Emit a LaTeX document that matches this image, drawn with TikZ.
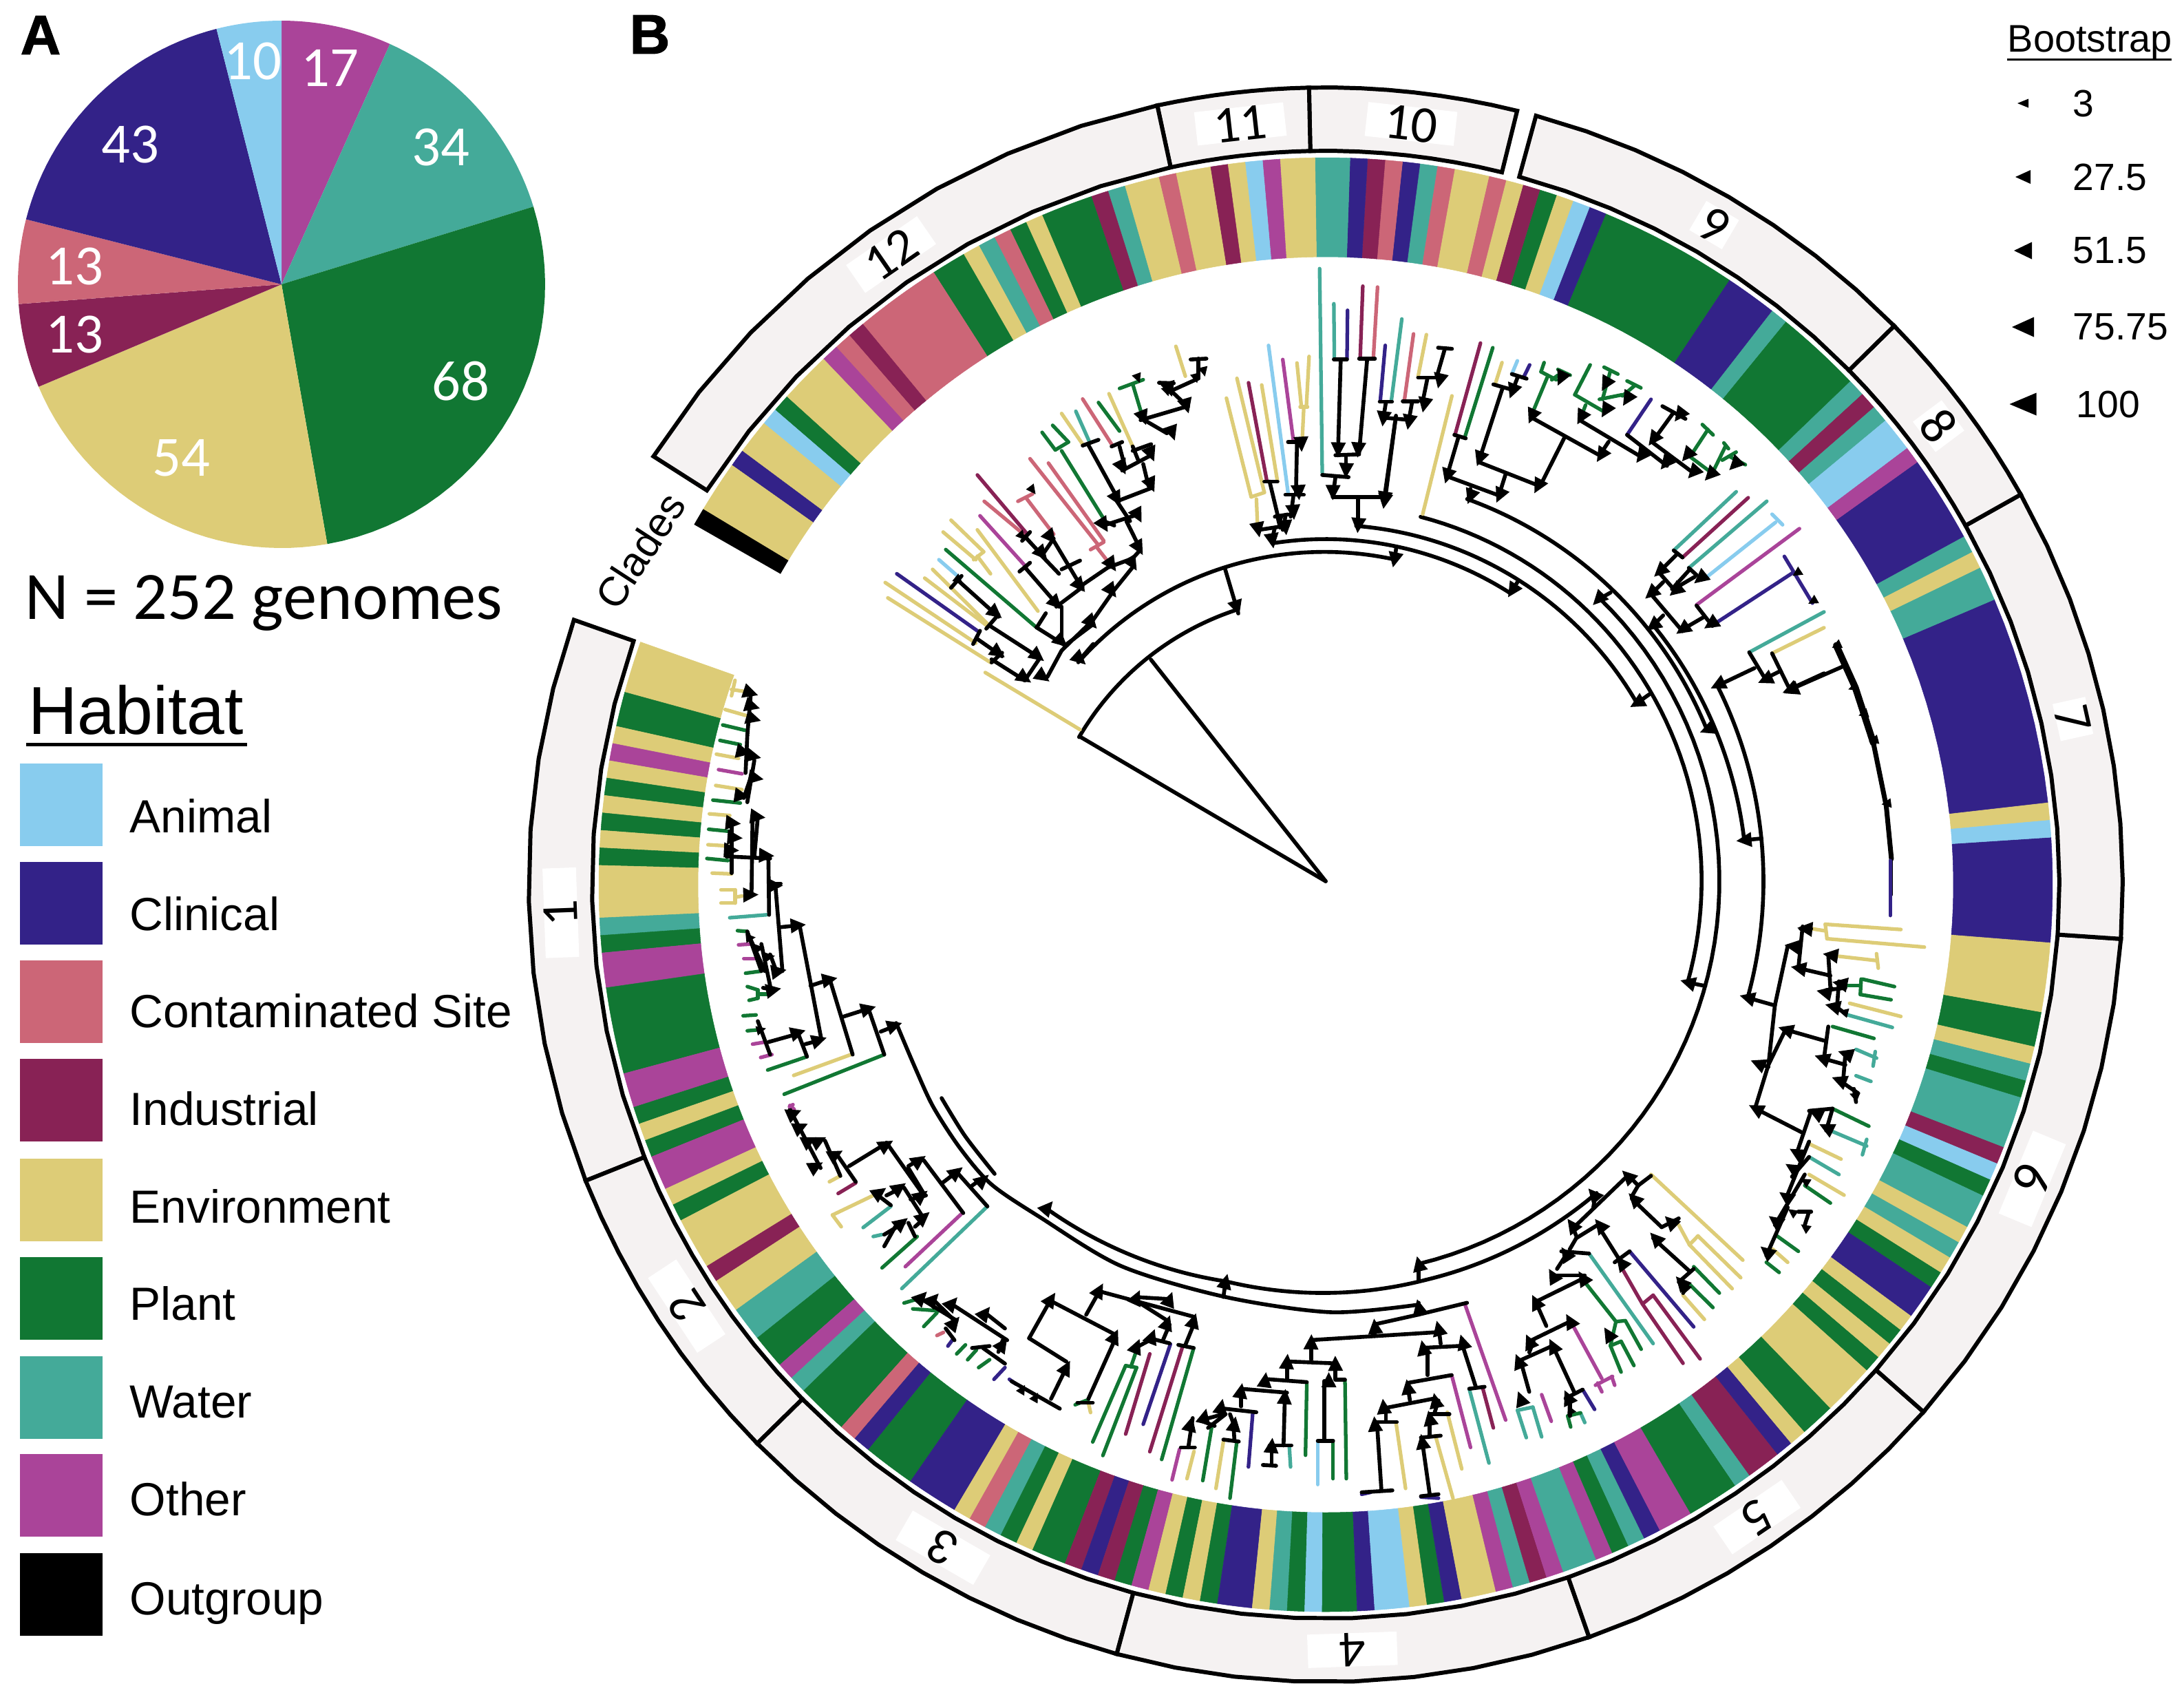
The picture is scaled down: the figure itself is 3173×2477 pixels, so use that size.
\documentclass[tikz,border=0pt]{standalone}
\usepackage{fontspec}
\setmainfont{Liberation Sans}
\newfontfamily\calib{Carlito}
\newfontfamily\heavyf[BoldFeatures={FakeBold=1.5}]{Liberation Sans}
\usetikzlibrary{positioning}
\definecolor{cA}{HTML}{88CCEE}
\definecolor{cL}{HTML}{332288}
\definecolor{cC}{HTML}{CC6677}
\definecolor{cI}{HTML}{882255}
\definecolor{cE}{HTML}{DDCC77}
\definecolor{cP}{HTML}{117733}
\definecolor{cW}{HTML}{44AA99}
\definecolor{cO}{HTML}{AA4499}
\definecolor{cX}{HTML}{000000}
\definecolor{ringfill}{HTML}{F5F2F2}
\tikzset{
  treeb/.style={black,line width=1.6pt,line cap=round,line join=round},
  tipb/.style={line width=1.5pt,line cap=round},
  ringb/.style={draw=black,fill=ringfill,line width=1.7pt,line join=miter},
  inview/.style={shift={(\zx,\zy)},xscale=1/\zsx,yscale=1/\zsy},
  cladelab/.style={fill=white,inner sep=0pt,minimum height=0.4cm,font=\fontsize{21.5}{24}\selectfont\calib},
  pielab/.style={white,inner sep=0pt,font=\fontsize{23.5}{26}\selectfont\calib},
  panlab/.style={anchor=center,inner sep=0pt,font=\fontsize{23}{26}\selectfont\heavyf\bfseries},
  leglab/.style={anchor=base west,inner sep=0pt,font=\fontsize{19.2}{22}\selectfont},
  bootlab/.style={anchor=west,inner sep=0pt,font=\fontsize{15.7}{18}\selectfont},
}
% sector of a ring around the tree centre
\newcommand{\sector}[5]{\filldraw[#5] plot[domain=#1:#2,samples=9] ({1926+#4*cos(\x)},{1285-#4*sin(\x)}) -- plot[domain=#2:#1,samples=9] ({1926+#3*cos(\x)},{1285-#3*sin(\x)}) -- cycle;}
% bar of the tree, radius and angle at both ends
\newcommand{\treearc}[4]{\draw[treeb] plot[domain=0:1,samples=50] ({1926+(#1+(#3-#1)*\x)*cos(#2+(#4-#2)*\x)},{1280-(#1+(#3-#1)*\x)*sin(#2+(#4-#2)*\x)});}
\newcommand{\zoomview}[4]{\def\zx{#1}\def\zy{#2}\def\zsx{#3}\def\zsy{#4}}
\newcommand{\tiplist}[1]{\begin{scope}[inview]\foreach \co/\xa/\ya/\xb/\yb in {#1}{\draw[tipb,color=c\co] (\xa,\ya) -- (\xb,\yb);}\end{scope}}
\newcommand{\barlist}[1]{\begin{scope}[inview]\foreach \xa/\ya/\xb/\yb in {#1}{\draw[treeb] (\xa,\ya) -- (\xb,\yb);}\end{scope}}
% triangles point to the root
\newcommand{\trilist}[2]{\foreach \tx/\ty in {#2}{
  \pgfmathsetmacro\px{\zx+\tx/\zsx}\pgfmathsetmacro\py{\zy+\ty/\zsy}
  \pgfmathsetmacro\ang{atan2(1280-\py,1926-\px)}
  \pgfmathsetmacro\ux{#1*cos(\ang)}\pgfmathsetmacro\uy{#1*sin(\ang)}
  \fill[black] ({\px+\ux},{\py+\uy}) -- ({\px-\ux-\uy},{\py-\uy+\ux}) -- ({\px-\ux+\uy},{\py-\uy-\ux}) -- cycle;}}
\newcommand{\legtri}[4]{\fill[black] ({#1-#3/2},#2) -- ({#1+#3/2},{#2-#4/2}) -- ({#1+#3/2},{#2+#4/2}) -- cycle;}
\begin{document}
\begin{tikzpicture}[x=0.01cm,y=-0.01cm]
\useasboundingbox (0,0) rectangle (3173,2477);
% pie
\def\cnt{0}
\foreach \co/\n in {O/17,W/34,P/68,E/54,I/13,C/13,L/43,A/10}{
  \pgfmathsetmacro\stA{90-\cnt*1.428571}\pgfmathsetmacro\stB{90-(\cnt+\n)*1.428571}
  \fill[color=c\co] (409,413) -- plot[domain=\stA:\stB,samples=30] ({409+383*cos(\x)},{413-383*sin(\x)}) -- cycle;
  \pgfmathtruncatemacro\nn{\cnt+\n}\xdef\cnt{\nn}}
\node[pielab] (pie10) at (367,89) {10};
\node[pielab] (pie17) at (479,99) {17};
\node[pielab] (pie34) at (640,214) {34};
\node[pielab] (pie43) at (189,210) {43};
\node[pielab] (pie13a) at (108,387) {13};
\node[pielab] (pie13b) at (108,486) {13};
\node[pielab] (pie54) at (263,665) {54};
\node[pielab] (pie68) at (669,554) {68};
\node[panlab] (panA) at (59,51) {A};
\node[panlab] (panB) at (944,50) {B};
\node[anchor=base west,inner sep=0pt,font=\fontsize{28}{32}\selectfont\calib] (total) at (36,899) {N = 252 genomes};
% legend
\node[anchor=base west,inner sep=0pt,font=\fontsize{28}{32}\selectfont] (habitat) at (41,1066) {Habitat};
\fill[black] (38,1079) rectangle (359,1084);
\foreach \co/\ys/\yt/\lab in {A/1109/1209/Animal,L/1252/1351/Clinical,C/1395/1492/Contaminated Site,I/1538/1634/Industrial,E/1683/1776/Environment,P/1826/1917/Plant,W/1970/2059/Water,O/2112/2201/Other,X/2256/2345/Outgroup}{
  \fill[color=c\co] (29,\ys) rectangle +(120,120);
  \node[leglab] (leg\co) at (188,\yt) {\lab};}
\node[anchor=base west,inner sep=0pt,font=\fontsize{15.9}{18}\selectfont] (bootstrap) at (2916,75) {Bootstrap};
\fill[black] (2916,85) rectangle (3155,88);
\legtri{2939}{150}{16}{13}
\legtri{2939}{257}{22}{20}
\legtri{2939}{364}{26}{25}
\legtri{2939}{475}{32}{29}
\legtri{2939}{587}{39}{33}
\node[bootlab] (bs3) at (3011,150) {3};
\node[bootlab] (bs27) at (3011,257) {27.5};
\node[bootlab] (bs51) at (3011,364) {51.5};
\node[bootlab] (bs75) at (3011,475) {75.75};
\node[bootlab] (bs100) at (3016,587) {100};
% clade ring
\foreach \angA/\angB in {160.6/201.8,201.8/224.5,224.5/254.8,254.8/289.3,289.3/318.6,318.6/356.1,356.1/389.3,389.3/404.5,404.5/434.7,436.1/451.2,451.2/462.2,462.2/507.5}{
  \sector{\angA}{\angB}{1066}{1158}{ringb}}
\foreach \lab/\ang/\labw in {1/182.1/1.3,2/213.4/1.3,3/240/1.3,4/272/1.3,5/304.3/1.2,6/337.4/1.3,7/372.5/0.55,8/396.8/0.55,9/419.5/0.55,10/443.6/1.3,11/456.4/1.3,12/484.6/1.25}{
  \node[cladelab,minimum width=\labw cm,rotate=\ang-90] (clade\lab) at ({1926+1112*cos(\ang)},{1285-1112*sin(\ang)}) {\lab};}
\node[inner sep=0pt,rotate=57,font=\fontsize{17}{20}\selectfont] (clades) at (930,800) {Clades};
% habitat band
\def\uu{1.3826}
\def\cnt{0}
\foreach \co/\n in {E/3,P/2,E/1,O/1,E/1,P/1,E/1,P/1,E/1,P/1,E/3,W/1,P/1,O/2,P/5,O/2,P/1,E/1,P/1,O/2,E/1,P/1,
  E/3,I/1,E/2,W/2,P/2,O/1,W/1,P/3,C/1,L/1,P/3,L/3,E/1,C/1,W/1,P/1,E/1,P/2,I/1,L/1,I/1,P/1,O/1,E/1,P/1,E/1,P/1,
  L/2,E/1,W/1,P/1,A/1,P/2,L/1,A/2,E/1,P/1,L/1,E/2,O/1,W/1,I/1,O/1,W/2,O/1,P/1,W/1,L/1,O/2,
  P/3,W/1,I/2,L/1,E/1,P/2,E/3,P/1,E/1,P/1,E/1,L/2,P/1,E/1,W/1,E/1,W/2,P/1,A/1,I/1,W/3,P/1,W/1,E/1,P/2,E/4,
  L/6,A/1,E/1,L/12,W/2,E/1,W/1,L/5,O/1,A/2,W/1,I/1,W/1,P/5,W/1,L/3,P/8,L/1,A/1,E/1,P/1,I/1,E/1,C/1,E/2,C/1,W/1,L/1,C/1,
  I/1,L/1,W/2,E/2,O/1,A/1,E/1,I/1,E/2,C/1,E/2,W/1,I/1,P/3,E/1,P/1,C/1,W/1,E/1,P/2,C/5,I/1,C/1,O/1,E/3,P/1,A/1,E/2,L/1,E/3,X/1}{
  \pgfmathsetmacro\stA{160.5+\cnt*\uu}\pgfmathsetmacro\stB{160.5+(\cnt+\n)*\uu}
  \sector{\stA}{\stB}{912}{1056}{color=c\co,line width=0.15pt}
  \pgfmathtruncatemacro\nn{\cnt+\n}\xdef\cnt{\nn}}
% backbone
\zoomview{0}{0}{1}{1}
\barlist{1926/1280/1569/1070,1926/1280/1672/958,1780/827/1799/891}
\treearc{415}{149.7}{415}{108.6}
\treearc{480}{138.5}{478}{77.9}
\treearc{497}{99}{497}{57.3}
\treearc{518}{85.1}{521}{29.8}
\treearc{547}{75.4}{546}{-15.6}
\treearc{572}{46}{572}{-76.4}
\treearc{592}{69.7}{596}{21.7}
\treearc{604}{38}{611}{5.6}
\treearc{636}{26.5}{636}{-15.5}
\treearc{600}{-49}{597}{-76}
\treearc{597}{-76}{599}{-104}
\treearc{599}{-104}{625}{-130.5}
\draw[treeb] plot[smooth] coordinates {(1302,1486) (1330,1552) (1356,1608) (1395,1668) (1440,1720) (1511,1768) (1629,1839) (1781,1884) (1934,1906) (2061,1895)};
\draw[treeb] plot[smooth] coordinates {(1368,1595) (1402,1650) (1445,1705)};
\trilist{11}{1797/883}
% clades 12 and 11
\zoomview{850}{100}{1.307}{1.568}
\tiplist{E/940/1505/760/1375,E/770/1352/575/1205,E/742/1308/570/1170,L/745/1280/592/1150,E/765/1270/645/1160,A/712/1160/672/1118,E/765/1265/660/1140,P/855/1270/685/1095,E/742/1118/680/1055,E/757/1100/695/1028,E/738/1118/757/1100,E/745/1110/770/1150,E/860/1235/745/1050,O/838/1135/750/1018,C/838/1065/758/985,I/840/1060/745/925,C/822/985/850/968,C/838/978/890/1060,C/975/1085/845/888,C/985/1075/880/898,C/960/1095/985/1078,C/972/1090/998/1130,P/985/1025/905/870,P/893/868/918/850,P/893/868/868/828,P/918/850/888/812,E/945/855/905/785,W/958/850/932/780,C/1000/855/945/752,P/1015/825/975/760,E/1040/860/995/740,P/1015/728/1060/708,P/1040/718/1058/790,E/1140/700/1122/632,
  E/1265/975/1218/750,E/1290/965/1238/705,E/1265/975/1290/965,E/1275/980/1277/1040,I/1295/940/1260/715,E/1315/940/1285/720,A/1335/965/1298/630,O/1345/845/1325/662,E/1360/765/1352/670,E/1370/765/1375/655,E/1358/770/1372/770,E/1365/770/1362/845,
  W/1400/920/1395/455,W/1423/660/1422/535,L/1447/660/1448/550,I/1472/660/1477/495,C/1497/660/1505/497}
\barlist{772/1345/835/1393,737/1310/750/1280,743/1297/792/1338,772/1352/792/1330,768/1268/865/1343,762/1275/785/1243,708/1165/785/1248,695/1182/715/1155,835/1393/862/1345,857/1272/910/1312,858/1272/875/1240,835/1135/900/1225,825/1145/845/1125,
  878/1385/905/1325,905/1325/965/1255,965/1255/1003/1190,1003/1190/1040/1135,915/1310/965/1265,940/1345/965/1310,895/1225/945/1180,905/1225/905/1300,
  835/1065/868/1108,830/1075/845/1055,868/1108/890/1070,885/1065/945/1185,860/1100/900/1150,905/1140/940/1120,
  945/1175/1000/1130,995/1135/1040/1115,1040/1115/1055/1095,1028/1030/1055/1095,985/1040/1050/1015,985/1030/1005/1040,1010/985/1035/1030,1010/985/1075/955,955/855/1010/975,945/858/975/845,1015/860/1025/905,1000/860/1020/850,1020/915/1075/880,1040/870/1075/855,1060/900/1070/950,1055/795/1105/830,1055/800/1140/770,1110/730/1145/770,1110/735/1165/705,1165/660/1165/705,1150/662/1180/660,1040/860/1050/890,1090/715/1118/716,
  1290/940/1315/940,1300/940/1315/1015,1310/1020/1335/1015,1335/850/1362/850,1352/855/1350/970,1330/970/1365/970,1345/975/1340/1020,1330/1020/1325/1050,1280/1050/1335/1040,1315/1020/1320/1045,1310/1045/1305/1070,
  1422/662/1447/662,1470/660/1500/660,1435/665/1430/870,1485/665/1470/875,1425/880/1470/878,1445/880/1445/925,1400/925/1450/930,1425/930/1420/975,1420/975/1520/975,1468/975/1468/1045,1540/790/1520/975}
\trilist{11}{835/1388,870/1385,785/1330,860/1338,780/1240,905/1305,895/1218,940/1345,962/1262,1000/1190,1040/1128,1052/1092,1000/1130,940/1178,868/1105,885/1068,985/1040,1050/1018,1010/980,1075/948,1020/908,1075/878,1115/830,1060/795,1142/768,1110/730,1278/1050,1330/1045,1305/1075,1345/1010,1355/965,1360/855,1430/868,1468/868,1445/915,1420/965,1518/985,1468/1040}
\trilist{7}{710/1165,830/1065,850/960,1050/705,1160/705,1175/690,1105/735,1320/1025}
% clades 10 and 9
\zoomview{2000}{400}{2.24}{3}
\tiplist{L/12/545/28/305,W/48/545/82/190,C/90/548/120/255,E/135/440/162/258,I/255/695/338/295,P/287/705/378/315,E/150/1040/245/525,E/388/465/408/380,A/440/430/458/372,L/478/445/498/390,P/510/590/555/445,P/545/380/535/420,P/535/420/585/455,P/590/410/630/435,P/590/435/570/455,P/695/390/645/520,P/645/520/735/590,P/680/565/670/600,P/740/400/785/430,P/760/420/735/540,P/725/540/800/520,P/815/460/860/490,P/840/480/800/525,L/815/695/893/540,P/1060/650/1095/695,P/1078/672/1020/790,P/1020/790/1090/860,P/1130/730/1145/755,P/1135/745/1095/855,P/1150/790/1200/825,P/1125/805/1170/770}
\barlist{10/550/50/550,85/548/135/548,135/445/190/445,200/315/245/320,222/320/195/445,165/450/150/550,30/555/22/620,115/555/105/630,22/620/110/630,60/640/25/970,253/695/290/710,265/710/230/870,228/875/400/960,305/930/300/970,440/430/488/450,460/440/440/510,380/475/445/500,410/490/335/800,335/815/525/915,420/865/400/950,610/710/535/910,505/620/720/780,755/725/730/775,660/630/860/790,815/695/945/830,930/570/1005/625,965/600/900/720,900/730/1030/860}
\trilist{11}{155/565,22/625,105/640,25/975,335/800,230/875,400/960,305/965,525/920,505/615,730/785,600/450,745/475,745/590,815/540,665/620,860/790,940/820,985/610,900/715,1030/860,1010/785,1085/870,1165/825,205/460,442/505}
% clade 8
\zoomview{1850}{700}{1.96}{1.96}
\tiplist{W/1140/195/1318/28,I/1165/215/1352/45,W/1183/245/1405/55,A/1235/270/1430/115,A/1420/92/1450/122,O/1205/350/1498/133,L/1255/405/1480/258,L/1455/212/1535/345,W/1355/485/1568/370,E/1420/488/1568/415}
\barlist{350/185/345/225,695/285/680/310,1070/605/1035/630,1230/1435/1180/1425,960/315/925/335,1250/685/1235/705,1390/1015/1340/1020,1110/380/1080/410,1140/195/1165/215,1183/245/1205/265,1150/205/1100/255,1185/250/1135/305,1100/260/1140/305,1140/305/1200/270,1075/320/1110/285,1080/325/1165/425,1205/352/1250/410,1225/385/1165/420,1355/485/1400/560,1420/488/1470/590,1265/580/1370/530,1400/560/1440/540,1470/590/1568/545}
\trilist{11}{345/222,680/310,1035/630,1180/1425,925/335,1235/705,1340/1020,1080/410,1100/255,1215/275,1145/310,1075/318,1165/420,1245/405,1265/578,1400/563,1470/592}
\trilist{7}{1490/260,1535/340}
% clade 7
\zoomview{2000}{100}{1.337}{1.307}
\barlist{800/1180/905/1135}
\begin{scope}[inview]
\draw[treeb,line width=2.8pt] (893,1095) -- (930,1175) -- (965,1280);
\draw[treeb,line width=2pt] (965,1280) -- (990,1400) -- (1000,1500);
\draw[treeb,line width=1.4pt] (1000,1500) -- (1000,1568);
\end{scope}
\trilist{7}{893/1095,925/1175,945/1225,965/1275,990/1395}
\trilist{11}{805/1180}
% clades 6 and 5
\zoomview{2200}{1250}{1.611}{1.568}
\tiplist{L/880/0/880/125,E/695/155/728/160,E/728/145/732/178,E/728/145/905/157,E/732/178/960/197,E/760/218/850/228,E/848/212/852/245,P/780/285/810/285,P/812/270/810/305,P/815/270/890/287,P/810/305/882/317,E/785/325/905/355,W/775/350/885/380,P/745/378/842/405,W/800/430/848/450,W/845/435/840/468,W/800/490/835/503,P/745/565/830/605,W/740/615/825/650,W/825/635/815/670,E/690/645/765/680,W/690/675/760/715,E/690/715/772/762,P/680/740/740/780,P/615/855/665/890,E/605/885/640/915,P/590/915/620/938,
  E/320/715/535/910,E/410/875/430/855,E/430/855/530/950,E/410/875/510/975,E/385/830/410/875,P/420/925/480/985,P/410/965/465/1018,E/395/990/445/1045,L/270/890/420/1062,I/250/925/300/1010,I/300/1010/325/990,I/300/1010/395/1145,I/325/990/435/1135,W/175/895/325/1100,P/165/960/238/1050,P/238/1050/260/1048,P/260/1048/297/1113,P/238/1050/225/1105,P/225/1105/250/1095,P/225/1105/250/1165,P/250/1095/280/1150,O/135/1055/205/1180,O/190/1195/230/1175,O/195/1190/205/1210,O/228/1175/235/1195,L/160/1205/188/1250,P/125/1265/132/1290,W/155/1258/165/1280,P/125/1265/155/1258}
\barlist{675/150/665/245,695/155/670/155,640/195/610/330,610/330/595/465,595/465/565/560,665/190/640/195,545/312/610/330,665/245/740/262,735/215/740/290,760/275/755/340,730/295/775/290,770/345/750/330,635/385/725/410,635/385/595/465,570/462/595/470,735/378/725/450,720/450/775/465,775/440/770/500,760/500/805/530,795/520/800/550,565/565/675/620,695/570/660/670,745/565/730/615,690/570/745/565,690/640/640/760,690/675/650/720,680/715/610/830,665/800/695/800,690/800/680/830,640/790/590/900,
  320/718/290/740,265/715/290/740,290/740/275/765,275/770/345/835,345/835/385/815,325/860/410/935,385/960/420/930,405/965/395/985,270/890/235/915,250/915/195/830,195/830/145/860,265/718/140/835,145/855/135/830,145/860/130/885,110/890/175/895,120/900/100/930,90/945/165/945,50/1005/165/950,50/1005/75/1060,35/1095/130/1050,45/1095/35/1120,10/1140/90/1105,90/1105/140/1210,15/1140/35/1210,120/1225/160/1205,130/1225/130/1265,185/790/190/760}
\trilist{11}{680/155,650/195,665/245,740/215,725/300,762/280,745/332,545/312,635/385,720/450,570/462,775/440,760/500,565/565,705/575,730/608,660/665,650/700,635/765,610/820,590/890,265/718,185/760,280/770,365/822,330/860,135/830,200/830,250/915,120/895,90/945,160/950,50/1005,130/1048,390/960,220/1078,35/1095,90/1105,10/1140,125/1222,15/1225}
\trilist{7}{770/345,795/535,680/730,650/800,680/835,130/1250,400/970}
% clade 4
\zoomview{1500}{1600}{1.568}{1.762}
\tiplist{W/1105/790/1140/782,W/1105/790/1125/860,W/1140/782/1160/858,O/1160/750/1182/818,O/985/518/1078/815,I/1025/730/1050/835,W/995/735/1040/925,O/955/700/998/885,E/828/820/850/990,E/918/855/958/1015,E/945/795/978/940,A/650/870/650/980,P/685/870/685/965,P/712/715/715/965,P/625/720/622/905,W/585/880/588/935,L/502/795/492/935,P/465/875/450/1015,E/435/870/418/990,P/408/835/388/970,E/368/895/352/965,O/335/890/318/968,L/750/1005/770/1000,L/885/1012/925/1015}
\barlist{338/885/370/885,355/885/365/810,380/815/415/830,385/815/435/800,400/835/440/800,460/865/458/830,435/865/470/870,430/785/510/795,475/740/475/780,475/735/580/745,575/755/572/880,525/930/555/932,545/930/545/885,540/880/590/880,530/710/625/718,580/665/690/670,580/665/580/710,635/615/635/660,665/865/665/715,690/680/690/710,650/868/685/868,690/712/712/712,640/610/925/590,925/575/930/620,780/575/780/600,780/570/880/545,880/515/880/545,880/545/990/515,895/630/980/625,900/630/900/700,980/625/1010/730,995/735/1030/730,855/720/955/700,855/730/860/765,800/785/915/760,805/790/805/815,785/820/830/820,785/825/795/995,750/1000/820/995,925/765/915/800,905/800/950/800,905/810/905/855,885/860/930/855,888/870/905/1005,885/1010/925/1005,880/460/880/420,435/500/440/460,450/800/460/830}
\trilist{11}{880/415,440/460,35/270,880/525,360/825,392/805,430/780,460/825,475/740,530/712,580/665,690/670,675/712,545/880,575/755,635/615,780/575,925/580,890/630,980/615,855/730,800/780,918/765,780/825,905/810,888/870}
% clades 3 and 2
\zoomview{800}{1600}{1.568}{1.76}
\tiplist{O/545/10/555/20,E/635/205/660/190,I/655/235/695/208,E/642/290/735/240,E/642/290/662/320,W/712/322/775/268,W/735/345/755/340,P/755/425/835/345,O/808/422/935/288,W/800/478/995/268,P/805/515/835/505,P/825/530/885/535,P/850/575/880/540,C/880/598/895/590,L/905/625/915/610,P/925/645/945/622,P/950/660/970/635,P/975/680/1000/660,L/1010/710/1035/680,L/1045/710/1060/722,P/1195/775/1225/762,E/1225/770/1230/795,P/1235/870/1310/675,P/1258/905/1335/680,P/1310/675/1335/680,P/1322/678/1335/635,I/1310/850/1365/645,L/1350/825/1412/620,I/1365/895/1440/625,P/1392/915/1465/630}
\barlist{545/20/615/170,625/100/660/190,655/140/695/205,680/165/760/110,765/105/850/240,815/165/845/145,815/170/850/235,850/150/940/285,890/210/925/180,925/180/995/268,960/215/985/195,740/235/775/265,765/240/800/220,805/220/845/290,820/250/855/240,785/320/760/370,760/340/805/310,815/310/830/345,830/320/850/300,
  845/505/925/560,875/510/920/560,910/515/1040/610,990/540/1035/580,1030/610/1020/640,985/630/1035/670,960/630/1000/625,900/580/920/610,1090/605/1140/505,1140/510/1285/595,1090/605/1175/665,1175/680/1140/760,1050/715/1160/785,1285/610/1225/760,1200/770/1235/770,1220/545/1250/485,1335/510/1405/560,1250/485/1465/550,1335/500/1410/505,1410/570/1395/610,1465/570/1445/625,1365/605/1410/618,1340/625/1365/610,1430/622/1465/630}
\trilist{11}{555/30,570/65,590/100,612/100,605/165,650/135,765/110,840/150,845/240,850/295,795/220,750/232,800/310,925/180,985/200,845/500,872/505,915/515,990/540,920/565,1030/620,1175/680,1140/505,1250/482,1285/600,1335/500,1410/505,1405/565,1465/560,1370/600,1335/625}
\trilist{7}{1075/735,1105/755}
% clade 1
\zoomview{800}{850}{1.96}{1.65}
\tiplist{E/515/250/555/255,E/525/228/515/265,E/497/298/555/312,P/490/335/555/348,P/482/372/540/382,E/472/405/535/415,O/478/442/545/452,E/470/480/545/490,P/462/515/540/522,E/452/548/510/552,P/450/585/510/590,E/448/622/505/625,P/445/655/505/660,E/460/690/515/692,E/545/745/525/748,E/525/730/525/762,E/525/730/485/730,E/525/762/485/762,W/510/797/615/790,P/532/828/560/830,O/535/862/570/860,O/550/895/590/895,P/555/930/600/925,P/560/962/590/970,P/565/995/590/990,P/590/970/590/990,P/590/980/625/980,P/548/1032/585/1030,P/560/1068/600/1065,O/575/1100/610/1095,O/598/1132/630/1125,P/618/1162/730/1130,E/692/1175/855/1125,P/665/1220/950/1125,O/680/1250/690/1245}
\barlist{570/260/560/360,560/360/555/450,555/400/575/410,580/420/560/520,570/460/550/510,575/550/572/740,590/555/580/650,515/565/515/690,500/650/625/655,620/650/622/790,640/720/660/925,630/715/655/715,650/820/710/815,710/820/770/1085,560/830/600/925,570/850/610/925,600/860/625/960,625/885/645/930,605/965/635/970,590/1045/625/1125,620/1095/705/1075,705/1075/730/1130,725/1100/770/1090,740/960/795/945,795/945/860/1125,830/1035/905/1015,905/1015/950/1125,940/1070/985/1055}
\trilist{11}{570/258,575/290,578/320,550/400,578/410,585/462,545/505,590/555,520/570,525/605,515/635,615/648,640/720,570/742,650/925,705/815,635/970,705/1072,765/1090,795/945,905/1015,980/1055}
\trilist{7}{570/845,595/870,625/890,600/1065}
\end{tikzpicture}
\end{document}
